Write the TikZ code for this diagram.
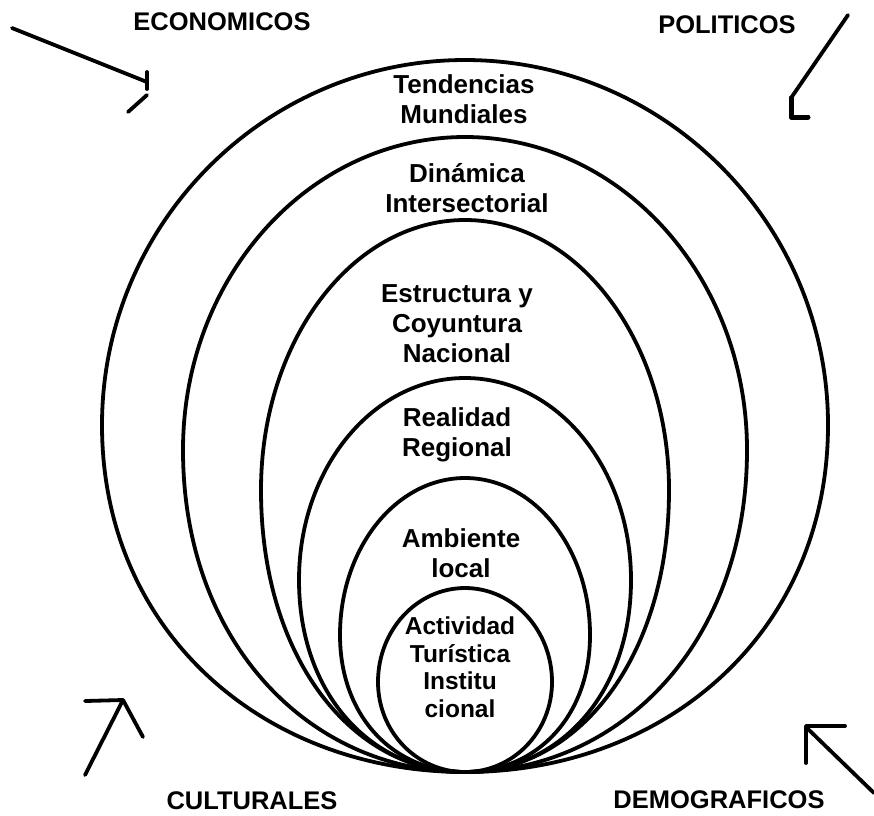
\documentclass[tikz,border=0pt]{standalone}
\usepackage{fontspec}
\setmainfont{Liberation Sans}
\begin{document}
\begin{tikzpicture}[x=1pt,y=-1pt,
  ring/.style={line width=3.8pt},
  arrowline/.style={line width=3.8pt, line cap=round, line join=round},
  lbl/.style={font=\fontsize{26}{30}\selectfont\bfseries, align=center, inner sep=0pt},
  smalllbl/.style={font=\fontsize{24.5}{27.5}\selectfont\bfseries, align=center, inner sep=0pt},
  corner/.style={font=\fontsize{25.5}{30}\selectfont\bfseries, inner sep=0pt, anchor=base}]
\useasboundingbox (0,0) rectangle (874,815);

% nested rings, all touching at the bottom point
\coordinate (B) at (465,772);
\draw[ring] (B) .. controls (265,772) and (102,633) .. (102,425)
  .. controls (102,224) and (265,60) .. (465,60)
  .. controls (665,60) and (828,224) .. (828,425)
  .. controls (828,633) and (665,772) .. (B);
\draw[ring] (B) .. controls (310,772) and (183,643) .. (183,450)
  .. controls (183,277) and (309,137) .. (465,137)
  .. controls (621,137) and (747,277) .. (747,450)
  .. controls (747,643) and (620,772) .. (B);
\draw[ring] (B) .. controls (353,772) and (261,659) .. (261,490)
  .. controls (261,341) and (352,220) .. (465,220)
  .. controls (578,220) and (669,341) .. (669,490)
  .. controls (669,659) and (577,772) .. (B);
\draw[ring] (B) .. controls (372,772) and (299,695) .. (299,580)
  .. controls (299,468) and (373,378) .. (465,378)
  .. controls (557,378) and (631,468) .. (631,580)
  .. controls (631,695) and (558,772) .. (B);
\draw[ring] (B) .. controls (394,772) and (340,717) .. (340,635)
  .. controls (340,548) and (396,478) .. (465,478)
  .. controls (534,478) and (590,548) .. (590,635)
  .. controls (590,717) and (536,772) .. (B);
\draw[ring] (B) .. controls (417,772) and (378,732) .. (378,682)
  .. controls (378,630) and (417,588) .. (465,588)
  .. controls (513,588) and (552,630) .. (552,682)
  .. controls (552,732) and (513,772) .. (B);

% ring labels
\node[lbl] (tend) at (464,99) {Tendencias\\Mundiales};
\node[lbl] (dina) at (467,188) {Dinámica\\Intersectorial};
\node[lbl] (estr) at (457,324) {Estructura y\\Coyuntura\\Nacional};
\node[lbl] (real) at (457,435) {Realidad\\Regional};
\node[lbl] (amb) at (461,553) {Ambiente\\local};
\node[smalllbl] (act) at (460,667) {Actividad\\Turística\\Institu\\cional};

% corner labels
\node[corner] (eco) at (222,30) {ECONOMICOS};
\node[corner] (pol) at (727,33) {POLITICOS};
\node[corner] (cul) at (252,809) {CULTURALES};
\node[corner] (dem) at (719,808) {DEMOGRAFICOS};

% hand-drawn arrows
\coordinate (e1) at (12,28);
\coordinate (e2) at (147,82);
\coordinate (e3) at (147,72);
\coordinate (e4) at (147,89);
\coordinate (e5) at (128,112);
\coordinate (e6) at (147,95);
\draw[arrowline] (e1) -- (e2);
\draw[arrowline] (e3) -- (e4);
\draw[arrowline] (e5) -- (e6);

\coordinate (p1) at (848,15);
\coordinate (p2) at (791,98);
\coordinate (p3) at (791,117);
\coordinate (p4) at (808,117);
\draw[arrowline] (p1) -- (p2);
\draw[arrowline, line width=5pt] (p2) -- (p3) -- (p4);

\coordinate (c0) at (85,701);
\coordinate (c1) at (85,775);
\coordinate (c2) at (123,700);
\coordinate (c3) at (143,737);
\draw[arrowline] (c1) -- (c2) -- (c3);
\draw[arrowline] (c0) -- (c2);

\coordinate (d1) at (874,793);
\coordinate (d2) at (808,729);
\coordinate (d3) at (845,726);
\coordinate (d4) at (806,726);
\coordinate (d5) at (806,763);
\draw[arrowline] (d1) -- (d2);
\draw[arrowline] (d3) -- (d4) -- (d5);
\end{tikzpicture}
\end{document}
